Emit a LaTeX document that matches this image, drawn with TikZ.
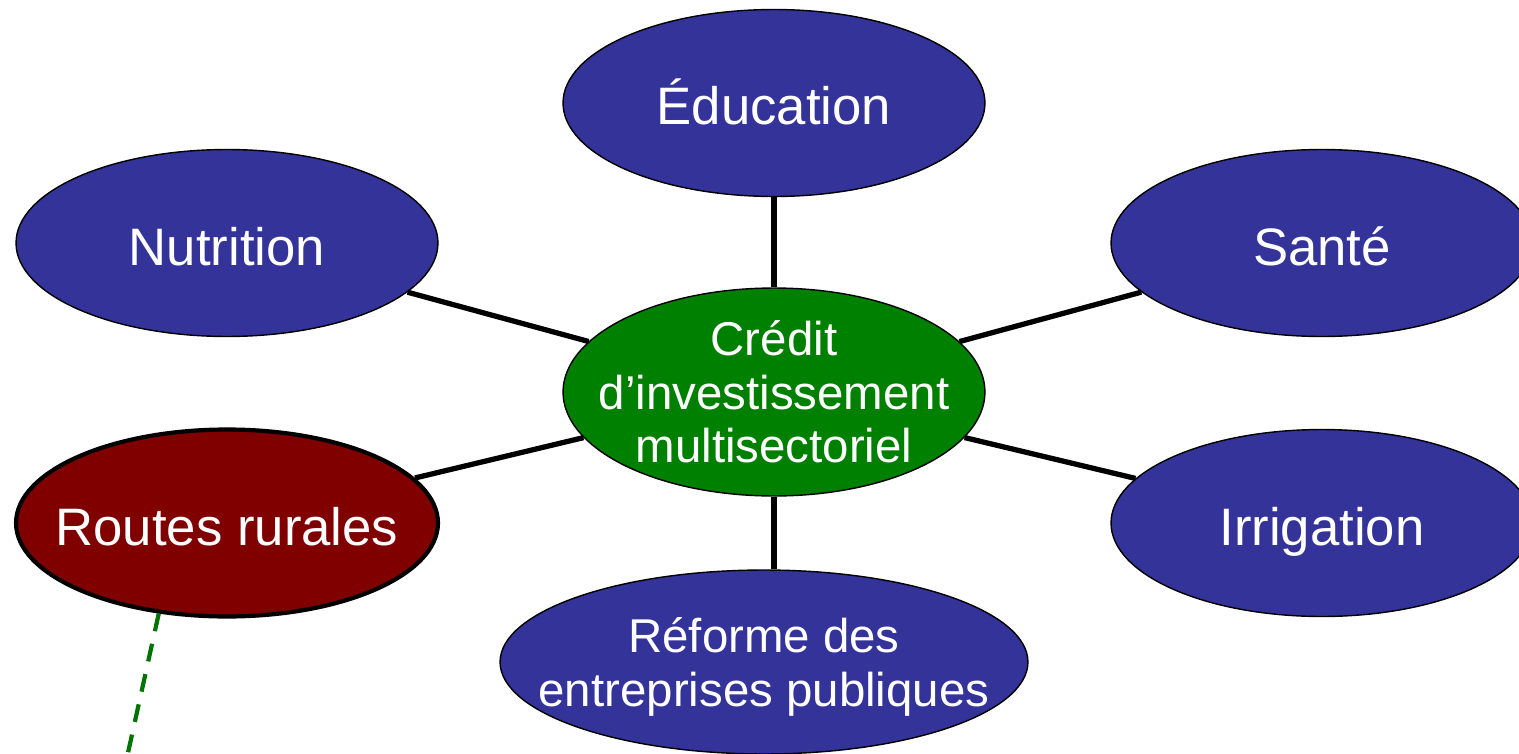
\documentclass[tikz,border=0pt]{standalone}
\usepackage{fontspec}
\setmainfont{Liberation Sans}
\usetikzlibrary{shapes.geometric}
\definecolor{sectorblue}{RGB}{51,51,153}
\definecolor{hubgreen}{RGB}{0,128,0}
\definecolor{roadred}{RGB}{128,0,0}

\begin{document}
\begin{tikzpicture}[
    x=0.02cm,y=-0.02cm,
    sector/.style={ellipse, draw, line width=0.8pt, fill=sectorblue, minimum width=8.44cm, minimum height=3.74cm},
    hub/.style={ellipse, draw, line width=0.8pt, fill=hubgreen, minimum width=8.44cm, minimum height=4.16cm},
    road/.style={sector, fill=roadred, line width=2.4pt},
    txt/.style={text=white, align=center, inner sep=0pt, font=\fontsize{27}{30.5}\selectfont},
    word/.style={text=white, inner sep=0pt, anchor=base, yshift=-0.44cm, font=\fontsize{30}{33}\selectfont},
    line/.style={line width=3pt},
    link/.style={line width=2.4pt, hubgreen!90!black, dash pattern=on 0.36cm off 0.26cm}
    ]
    \useasboundingbox (0, 0) rectangle (1519, 754);
    \clip (0, 0) rectangle (1519, 754);
    % ellipses
    \node[hub] (credit) at (774, 392) {};
    \node[sector] (education) at (774, 103) {};
    \node[sector] (nutrition) at (227, 243) {};
    \node[sector] (sante) at (1322, 243) {};
    \node[road] (routes) at (227, 523) {};
    \node[sector] (irrigation) at (1322, 523) {};
    \node[sector, minimum width=10.56cm, minimum height=3.68cm] (reforme) at (764, 662) {};
    % texts
    \node[txt] at (credit) {Crédit\\d’investissement\\multisectoriel};
    \node[word] at (education) {Éducation};
    \node[word] at (nutrition) {Nutrition};
    \node[word] at (sante) {Santé};
    \node[word] at (routes) {Routes rurales};
    \node[word] at (irrigation) {Irrigation};
    \node[txt, yshift=-0.1cm] at (reforme) {Réforme des\\entreprises publiques};
    % connectors
    \draw[line] (education) -- (credit);
    \draw[line] (nutrition) -- (credit);
    \draw[line] (sante) -- (credit);
    \draw[line] (routes) -- (credit);
    \draw[line] (irrigation) -- (credit);
    \draw[line] (credit.south) -- (credit.south |- reforme.north);
    \coordinate (roadend) at (122, 780);
    \draw[link] (routes.-127) -- (roadend);
  \end{tikzpicture}
\end{document}
